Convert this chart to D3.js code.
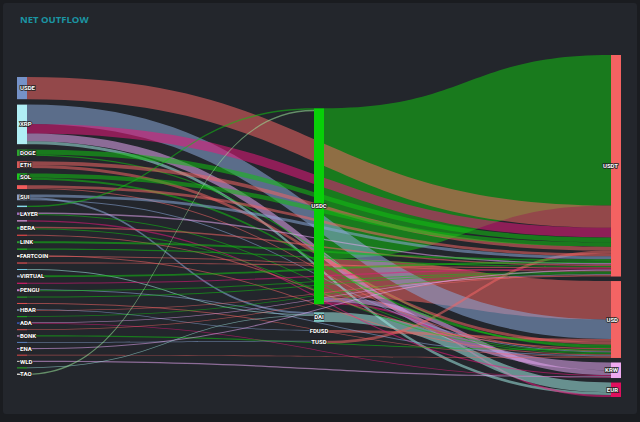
<!DOCTYPE html>
<html>
<head>
<meta charset="utf-8">
<script src="https://cdn.jsdelivr.net/npm/d3@7"></script>
<style>
  html, body { margin: 0; padding: 0; background: #1a1c20; }
  svg { display: block; }
</style>
</head>
<body>
<svg id="chart" width="640" height="422"></svg>
<script>
// Node columns (left -> middle -> right)
const leftNodes = ["USDE", "XRP", "DOGE", "ETH", "SOL", "BTC", "SUI", "LTC", "LAYER", "PEPE", "BERA", "TRX",
  "LINK", "AVAX", "FARTCOIN", "DOT", "TON", "VIRTUAL", "WIF", "PENGU", "ONDO", "APT", "HBAR", "SEI", "ADA",
  "NEAR", "BONK", "ARB", "ENA", "OP", "WLD", "INJ", "TAO"];
const midNodes = ["USDC", "DAI", "FDUSD", "TUSD"];
const rightNodes = ["USDT", "USD", "KRW", "EUR"];

// Flows: [source, target, value]
const links = [
  ["USDC", "USDT", 156], ["USDE", "USDT", 23], ["USDC", "USD", 40], ["XRP", "USD", 20],
  ["XRP", "USDT", 10], ["XRP", "KRW", 8], ["XRP", "EUR", 3], ["USDC", "KRW", 5],
  ["USDC", "EUR", 2], ["DAI", "EUR", 10], ["FDUSD", "USD", 3], ["TUSD", "USDT", 3],
  ["DOGE", "USDT", 5], ["DOGE", "USD", 1.5], ["ETH", "USDT", 4], ["ETH", "USD", 3],
  ["SOL", "USDT", 4.6], ["SOL", "USD", 2], ["BTC", "USDT", 3], ["BTC", "USD", 1],
  ["SUI", "USDT", 3], ["SUI", "DAI", 2], ["SUI", "USD", 1], ["LTC", "USDC", 1.5],
  ["LAYER", "USDT", 1.5], ["LAYER", "USD", 1], ["PEPE", "KRW", 1.2], ["BERA", "USDT", 1.5],
  ["BERA", "USD", 1], ["TRX", "USD", 1.2], ["LINK", "USDT", 2], ["AVAX", "USDT", 1.2],
  ["FARTCOIN", "USD", 1], ["FARTCOIN", "USDT", 1], ["DOT", "USDT", 1.2], ["TON", "DAI", 1],
  ["VIRTUAL", "USDT", 2], ["WIF", "USDT", 1.2], ["PENGU", "USD", 1], ["PENGU", "USDT", 1],
  ["ONDO", "USDT", 1], ["APT", "USD", 1], ["HBAR", "USDT", 0.7], ["HBAR", "FDUSD", 0.8],
  ["SEI", "USDT", 0.8], ["ADA", "KRW", 0.7], ["ADA", "USDT", 0.8], ["NEAR", "USDT", 0.8],
  ["BONK", "USD", 1.2], ["ARB", "TUSD", 0.8], ["ENA", "USDT", 1.2], ["OP", "USD", 0.8],
  ["WLD", "KRW", 1.2], ["INJ", "DAI", 0.8], ["TAO", "USDC", 1.5]
];

// Styles
const palette = {
  green: "#12c012", red: "#f06464", magenta: "#e8187c", blue: "#8aa8d8",
  lavender: "#e4a6f0", teal: "#a0e8e2", lime: "#9ae69a"
};
const linkTones = [
  "green", "red", "red", "blue", "magenta", "lavender", "teal", "lavender",
  "magenta", "teal", "red", "red", "green", "green", "red", "red",
  "green", "green", "red", "red", "blue", "blue", "blue", "green",
  "lavender", "green", "magenta", "red", "green", "red", "green", "green",
  "red", "red", "red", "teal", "green", "magenta", "blue", "green",
  "green", "red", "red", "blue", "green", "magenta", "lavender", "red",
  "green", "blue", "lavender", "red", "lavender", "teal", "lime"
];
const nodeColors = {
  USDE: "#7592c8", XRP: "#b0eef5", DOGE: "#2ea52e", ETH: "#d45a5a", SOL: "#1fc71f", BTC: "#f25c5c",
  SUI: "#8a9cc4", LTC: "#86d8e8", LAYER: "#9a6fc0", PEPE: "#f2a2f0", BERA: "#3aa03a", TRX: "#e84848",
  LINK: "#2d9d2d", AVAX: "#20c020", FARTCOIN: "#e0e0e0", DOT: "#e85050", TON: "#72c8e0", VIRTUAL: "#8a9cc4",
  WIF: "#d81b6a", PENGU: "#c080d0", ONDO: "#22b022", APT: "#e05050", HBAR: "#8a9cc4", SEI: "#20b020",
  ADA: "#3a5ac0", NEAR: "#e05050", BONK: "#d0a0e0", ARB: "#5a80c0", ENA: "#b080d0", OP: "#e04848",
  WLD: "#c0c0c0", INJ: "#28b028", TAO: "#d0d0d0",
  USDC: "#08d008", DAI: "#7ec8c4", FDUSD: "#c8c8c8", TUSD: "#b0b0d0",
  USDT: "#f46262", USD: "#f46464", KRW: "#f0aaf0", EUR: "#e0105e"
};

const svg = d3.select("#chart");

// panel + title
svg.append("rect")
  .attr("x", 3).attr("y", 3).attr("width", 634).attr("height", 411).attr("rx", 3)
  .attr("fill", "#23262c");

svg.append("text")
  .attr("x", 20).attr("y", 23)
  .style("font-family", "'Open Sans', sans-serif")
  .style("font-size", "9.5px")
  .style("font-weight", 700)
  .style("fill", "#1b95a3")
  .text("NET OUTFLOW");

// ---- simple sankey layout ----
const columns = [leftNodes, midNodes, rightNodes];
const nodeWidth = 10;
const nodeGaps = [5.4, 8, 4.5]; // gap per column
const layoutTop = 55, layoutBottom = 397;

const nodes = new Map();
columns.forEach((col, ci) => col.forEach(name => {
  nodes.set(name, { name, col: ci, ins: [], outs: [], inV: 0, outV: 0 });
}));

const flows = links.map(([s, t, v], i) => ({
  source: nodes.get(s), target: nodes.get(t), value: v, color: palette[linkTones[i]]
}));
flows.forEach(f => {
  f.source.outs.push(f); f.source.outV += f.value;
  f.target.ins.push(f); f.target.inV += f.value;
});
nodes.forEach(n => n.value = Math.max(n.inV, n.outV));

// value -> pixel scale, limited by the fullest column
const ky = d3.min(columns, (col, ci) =>
  (layoutBottom - layoutTop - (col.length - 1) * nodeGaps[ci]) / d3.sum(col, n => nodes.get(n).value));
const hScale = d3.scaleLinear().domain([0, 1]).range([0, ky]);
const xScale = d3.scalePoint().domain([0, 1, 2]).range([17, 640 - 19 - nodeWidth]);
const centerY = (layoutTop + layoutBottom) / 2;

columns.forEach((col, ci) => {
  const colH = d3.sum(col, n => hScale(nodes.get(n).value)) + (col.length - 1) * nodeGaps[ci];
  let y = centerY - colH / 2;
  col.forEach(name => {
    const n = nodes.get(name);
    n.x0 = xScale(ci); n.x1 = n.x0 + nodeWidth;
    n.y0 = y; n.y1 = y + hScale(n.value);
    y = n.y1 + nodeGaps[ci];
  });
});

// stack links at each node, largest first
nodes.forEach(n => {
  let sy = n.y0;
  n.outs.slice().sort((a, b) => b.value - a.value).forEach(f => { f.sy = sy; sy += hScale(f.value); });
  let ty = n.y0;
  n.ins.slice().sort((a, b) => b.value - a.value).forEach(f => { f.ty = ty; ty += hScale(f.value); });
});

function bandPath(f) {
  const x0 = f.source.x1, x1 = f.target.x0, xm = (x0 + x1) / 2;
  const w = hScale(f.value);
  const p = d3.path();
  p.moveTo(x0, f.sy);
  p.bezierCurveTo(xm, f.sy, xm, f.ty, x1, f.ty);
  p.lineTo(x1, f.ty + w);
  p.bezierCurveTo(xm, f.ty + w, xm, f.sy + w, x0, f.sy + w);
  p.closePath();
  return p.toString();
}

// links
svg.append("g")
  .selectAll("path")
  .data(flows)
  .join("path")
  .attr("d", bandPath)
  .attr("fill", d => d.color)
  .attr("fill-opacity", 0.55);

// nodes
const nodeList = Array.from(nodes.values());
svg.append("g")
  .selectAll("rect")
  .data(nodeList)
  .join("rect")
  .attr("x", d => d.x0)
  .attr("y", d => d.y0)
  .attr("width", nodeWidth)
  .attr("height", d => Math.max(1, d.y1 - d.y0))
  .attr("fill", d => nodeColors[d.name]);

// labels: hide ones that overlap a bigger node's label
const labelH = 10.8;
const shown = [];
nodeList.slice().sort((a, b) => b.value - a.value).forEach(n => {
  const cy = (n.y0 + n.y1) / 2;
  const clash = shown.some(s => s.col === n.col && Math.abs(s.cy - cy) < labelH);
  if (!clash) shown.push({ col: n.col, cy, node: n });
});

svg.append("g")
  .selectAll("text")
  .data(shown)
  .join("text")
  .attr("x", d => d.col === 0 ? d.node.x0 + 3 : d.col === 1 ? (d.node.x0 + d.node.x1) / 2 : d.node.x1 - 3)
  .attr("y", d => d.cy)
  .attr("dy", "0.35em")
  .attr("text-anchor", d => d.col === 0 ? "start" : d.col === 1 ? "middle" : "end")
  .style("font-family", "Roboto, sans-serif")
  .style("font-size", "6px")
  .style("font-weight", 700)
  .style("fill", "#fff")
  .style("stroke", "#222")
  .style("stroke-width", "1.6px")
  .style("paint-order", "stroke")
  .text(d => d.node.name);
</script>
</body>
</html>
